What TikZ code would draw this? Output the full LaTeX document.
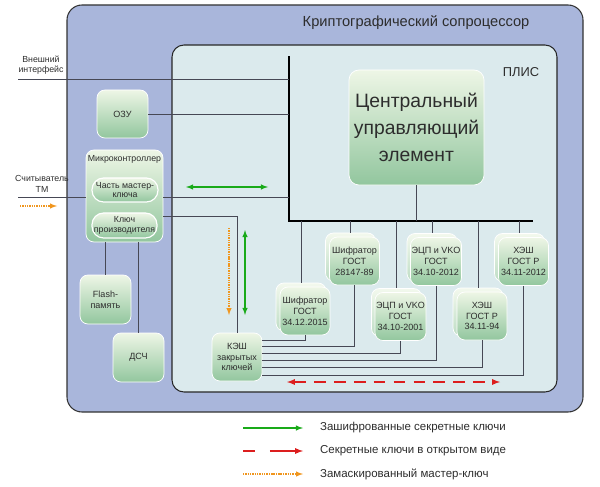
\documentclass[tikz,border=0pt]{standalone}
\usepackage{fontspec}
\setmainfont{Liberation Sans}
\usetikzlibrary{arrows, positioning}
\definecolor{outerblue}{RGB}{169,182,219}
\definecolor{plisfill}{RGB}{219,234,237}
\definecolor{linegray}{RGB}{70,72,85}
\definecolor{boxtop}{RGB}{238,246,230}
\definecolor{boxbottom}{RGB}{146,198,158}
\definecolor{arrgreen}{RGB}{25,170,25}
\definecolor{arrred}{RGB}{220,30,30}
\definecolor{arrorange}{RGB}{240,150,30}
\definecolor{txtgray}{RGB}{45,45,45}

\newcommand{\cryptoblock}[4]{%
\node[blk, backblk] (#1b) at ({#2-4},{#3-4}) {};
\node[blk] (#1) at (#2,#3) {#4};}

\begin{document}
\begin{tikzpicture}[x=0.03cm, y=-0.03cm,
  blk/.style = {rectangle, rounded corners=2.4mm, draw=white, line width=0.6pt,
    top color=boxtop, bottom color=boxbottom, text=txtgray, align=center,
    inner sep=1pt, minimum width=1.5cm, minimum height=1.44cm,
    font=\fontsize{7.7}{9.2}\selectfont},
  backblk/.style = {top color=boxtop!70!white, bottom color=boxbottom!60!white},
  pill/.style = {rectangle, rounded corners=3.5mm, draw=white, line width=1pt,
    top color=boxtop, bottom color=boxbottom, text=txtgray, align=center,
    inner sep=1pt, minimum width=1.98cm, minimum height=0.72cm,
    font=\fontsize{7.5}{8.5}\selectfont},
  lbl/.style = {text=txtgray, align=center, font=\fontsize{7.5}{9}\selectfont},
  conn/.style = {draw=linegray, line width=0.8pt},
  grn/.style = {draw=arrgreen, line width=1.1pt},
  rd/.style = {draw=arrred, line width=1.3pt, dash pattern=on 10pt off 7pt},
  org/.style = {draw=arrorange, line width=1pt, dash pattern=on 1.2pt off 0.8pt}]
\useasboundingbox (0,0) rectangle (600,487);
\draw[fill=outerblue, draw=black!80, line width=0.9pt, rounded corners=4.5mm] (67,5) rectangle (583,412);
\node[text=txtgray, font=\fontsize{12.5}{14}\selectfont] (title) at (416,23) {Криптографический сопроцессор};
\draw[fill=plisfill, draw=black!85, line width=0.9pt, rounded corners=3.6mm] (172,45) rectangle (557,392);
\node[text=txtgray, font=\fontsize{11}{13}\selectfont] (plis) at (521,72) {ПЛИС};

\coordinate (bustop) at (289,57);
\coordinate (buscorner) at (289,221);
\coordinate (busend) at (532,221);
\draw[line width=2.2pt, line cap=rect] (bustop) -- (buscorner) -- (busend);

\node[blk, minimum width=4.05cm, minimum height=3.45cm, rounded corners=3mm,
  font=\fontsize{16.5}{23}\selectfont] (cue) at (416.5,127.5) {Центральный\\управляющий\\элемент};
\draw[conn] (cue.south) -- (cue.south |- buscorner);

\node[lbl] (ext) at (41,65) {Внешний\\интерфейс};
\coordinate (extin) at (18,79);
\draw[conn] (extin) -- (extin -| bustop);

\node[blk, minimum width=1.53cm] (ozu) at (122.5,114) {ОЗУ};
\draw[conn] (ozu.east) -- (ozu.east -| bustop);

\node[blk, minimum width=2.31cm, minimum height=2.76cm] (mc) at (124.5,196) {};
\node[lbl, below=1pt of mc.north] (mclbl) {Микроконтроллер};
\node[pill] (master) at (125,190) {Часть мастер-\\ключа};
\node[pill, minimum width=1.95cm, minimum height=0.75cm] (vendor) at (124.5,225.5) {Ключ\\производителя};

\node[lbl] (tm) at (42,184) {Считыватель\\ТМ};
\coordinate (tmin) at (18,197);
\draw[conn] (tmin) -- (tmin -| mc.west);
\draw[conn] (tmin -| mc.east) -- (tmin -| bustop);
\draw[org, -latex] (20,206) -- (57,206);

\node[blk, minimum width=1.53cm, minimum height=1.47cm] (flash) at (105.5,299.5) {Flash-\\память};
\node[blk, minimum width=1.53cm, minimum height=1.47cm] (rng) at (138.5,357.5) {ДСЧ};
\draw[conn] (flash.north) -- (flash.north |- mc.south);
\draw[conn] (rng.north) -- (rng.north |- mc.south);

\node[blk] (kesh) at (237,357) {КЭШ\\закрытых\\ключей};
\draw[conn] ([yshift=-0.6cm]mc.east) -| (kesh.north);

\cryptoblock{s15}{305}{311}{Шифратор\\ГОСТ\\34.12.2015}
\cryptoblock{s89}{354.5}{261}{Шифратор\\ГОСТ\\28147-89}
\cryptoblock{e01}{400.5}{316.5}{ЭЦП и VKO\\ГОСТ\\34.10-2001}
\cryptoblock{e12}{436}{261.5}{ЭЦП и VKO\\ГОСТ\\34.10-2012}
\cryptoblock{h94}{482}{316}{ХЭШ\\ГОСТ Р\\34.11-94}
\cryptoblock{h12}{523.5}{261.5}{ХЭШ\\ГОСТ Р\\34.11-2012}

\foreach \b in {s15, s89, e01, e12, h94, h12}
  \draw[conn] (\b b.north) -- (\b b.north |- buscorner);
\draw[conn] ([yshift=0.51cm]kesh.east) -| (s15.south);
\draw[conn] ([yshift=0.33cm]kesh.east) -| (s89.south);
\draw[conn] ([yshift=0.12cm]kesh.east) -| (e01.south);
\draw[conn] ([yshift=-0.09cm]kesh.east) -| (e12.south);
\draw[conn] ([yshift=-0.3cm]kesh.east) -| (h94.south);
\draw[conn] ([yshift=-0.54cm]kesh.east) -| (h12.south);

\draw[grn, latex-latex] (186,187) -- (268,187);
\draw[grn, latex-latex] (245,230) -- (245,315);
\draw[org, -latex] (229,228) -- (229,315);
\draw[rd, latex-latex] (287,382) -- (500,382);

\coordinate (lg1) at (243,428);
\coordinate (lg2) at (243,451);
\coordinate (lg3) at (243,474);
\draw[grn, -latex] (lg1) -- ++(60,0);
\draw[rd, dash pattern=on 10pt off 13pt on 40pt, -latex] (lg2) -- ++(60,0);
\draw[org, -latex] (lg3) -- ++(60,0);
\node[anchor=west, text=txtgray, font=\fontsize{9.8}{12}\selectfont] (lgtxt1) at (316,428) {Зашифрованные секретные ключи};
\node[anchor=west, text=txtgray, font=\fontsize{9.8}{12}\selectfont] (lgtxt2) at (316,451) {Секретные ключи в открытом виде};
\node[anchor=west, text=txtgray, font=\fontsize{9.8}{12}\selectfont] (lgtxt3) at (316,474) {Замаскированный мастер-ключ};
\end{tikzpicture}
\end{document}
